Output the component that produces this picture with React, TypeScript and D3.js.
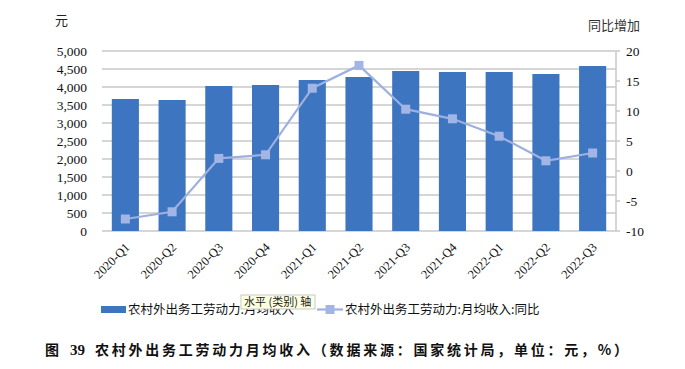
import React from 'react';
import * as d3 from 'd3';

// 季度
const quarters = [
  '2020-Q1', '2020-Q2', '2020-Q3', '2020-Q4',
  '2021-Q1', '2021-Q2', '2021-Q3', '2021-Q4',
  '2022-Q1', '2022-Q2', '2022-Q3',
];
// 月均收入（元）
const income = [3667, 3639, 4028, 4056, 4194, 4278, 4444, 4417, 4417, 4361, 4583];
// 同比（%）
const yoy = [-8.0, -6.8, 2.1, 2.7, 13.8, 17.6, 10.3, 8.7, 5.8, 1.7, 3.0];

const leftTicks = [0, 500, 1000, 1500, 2000, 2500, 3000, 3500, 4000, 4500, 5000];
const rightTicks = [-10, -5, 0, 5, 10, 15, 20];

const W = 685;
const H = 369;
const margin = { top: 51, right: 69, bottom: 138, left: 102 };

const serif = '"Liberation Serif", "Times New Roman", serif';
const cjk = '"Noto Sans CJK SC", sans-serif';

export default function App() {
  const x = d3
    .scaleBand()
    .domain(quarters)
    .range([margin.left, W - margin.right])
    .paddingInner(0.42)
    .paddingOuter(0.21);

  const y = d3.scaleLinear().domain([0, 5000]).range([H - margin.bottom, margin.top]);
  const y2 = d3.scaleLinear().domain([-10, 20]).range([H - margin.bottom, margin.top]);

  const line = d3
    .line<number>()
    .x((_, i) => x(quarters[i])! + x.bandwidth() / 2)
    .y(d => y2(d));

  const fmt = d3.format(',');
  const x0 = margin.left;
  const x1 = W - margin.right;
  const yb = H - margin.bottom;

  return (
    <svg
      width={W}
      height={H}
      style={{ position: 'absolute', left: 0, top: 0, background: '#fff' }}
    >
      {/* 网格线 */}
      {leftTicks.map(t => (
        <line key={t} x1={x0} x2={x1} y1={y(t)} y2={y(t)} stroke="#c9c9c9" strokeWidth={1.5} />
      ))}

      {/* 柱 */}
      {income.map((v, i) => (
        <rect
          key={quarters[i]}
          x={x(quarters[i])}
          y={y(v)}
          width={x.bandwidth()}
          height={y(0) - y(v)}
          fill="#3d75c0"
        />
      ))}

      {/* 右轴 */}
      <line x1={x1} x2={x1} y1={margin.top} y2={yb} stroke="#c9c9c9" strokeWidth={1.5} />
      {rightTicks.map(t => (
        <g key={t}>
          <line x1={x1} x2={x1 + 4} y1={y2(t)} y2={y2(t)} stroke="#c9c9c9" strokeWidth={1.5} />
          <text x={x1 + 10} y={y2(t)} dy="0.35em" fontFamily={serif} fontSize={13.5} fill="#111">
            {t}
          </text>
        </g>
      ))}

      {/* 左轴标签 */}
      {leftTicks.map(t => (
        <text
          key={t}
          x={87}
          y={y(t)}
          dy="0.35em"
          textAnchor="end"
          fontFamily={serif}
          fontSize={13.5}
          fill="#111"
        >
          {fmt(t)}
        </text>
      ))}

      {/* 同比折线 */}
      <path d={line(yoy) || ''} fill="none" stroke="#9db0e0" strokeWidth={2.2} />
      {yoy.map((v, i) => (
        <rect
          key={i}
          x={x(quarters[i])! + x.bandwidth() / 2 - 4.5}
          y={y2(v) - 4.5}
          width={9}
          height={9}
          fill="#a2b5e4"
        />
      ))}

      {/* X 轴标签 */}
      {quarters.map(q => (
        <text
          key={q}
          transform={`translate(${x(q)! + x.bandwidth() / 2 + 2},${yb + 14}) rotate(-45)`}
          textAnchor="end"
          dy="0.35em"
          fontFamily={serif}
          fontSize={12.5}
          fill="#111"
        >
          {q}
        </text>
      ))}

      {/* 轴标题 */}
      <text x={55} y={25} fontFamily={cjk} fontSize={13} fill="#222">元</text>
      <text x={588} y={30} fontFamily={cjk} fontSize={13} fill="#333">同比增加</text>

      {/* 图例 */}
      <rect x={101} y={306} width={25} height={7} fill="#3d75c0" />
      <text x={128} y={310} dy="0.35em" fontFamily={cjk} fontSize={12.5} fill="#111">
        农村外出务工劳动力:月均收入
      </text>
      <line x1={317} x2={343} y1={309.5} y2={309.5} stroke="#9db0e0" strokeWidth={2.2} />
      <rect x={325.5} y={305} width={9} height={9} fill="#a2b5e4" />
      <text x={345} y={310} dy="0.35em" fontFamily={cjk} fontSize={12.5} fill="#111">
        农村外出务工劳动力:月均收入:同比
      </text>

      {/* 提示框（参考图中鼠标悬停的浮层） */}
      <rect x={241} y={295} width={74} height={14} fill="#ffffe1" stroke="#bbb" strokeWidth={0.8} />
      <text x={244} y={302} dy="0.35em" fontFamily={cjk} fontSize={11} fill="#222">
        水平 (类别) 轴
      </text>

      {/* 图题 */}
      <text x={45} y={350} dy="0.35em" fontFamily={cjk} fontSize={14} fontWeight="bold" fill="#111">
        图
      </text>
      <text x={70} y={350} dy="0.35em" fontFamily={serif} fontSize={15} fontWeight="bold" fill="#111">
        39
      </text>
      <text
        x={95}
        y={350}
        dy="0.35em"
        fontFamily={cjk}
        fontSize={14}
        fontWeight="bold"
        fill="#111"
        textLength={533}
        lengthAdjust="spacing"
      >
        农村外出务工劳动力月均收入（数据来源：国家统计局，单位：元，%）
      </text>
    </svg>
  );
}
